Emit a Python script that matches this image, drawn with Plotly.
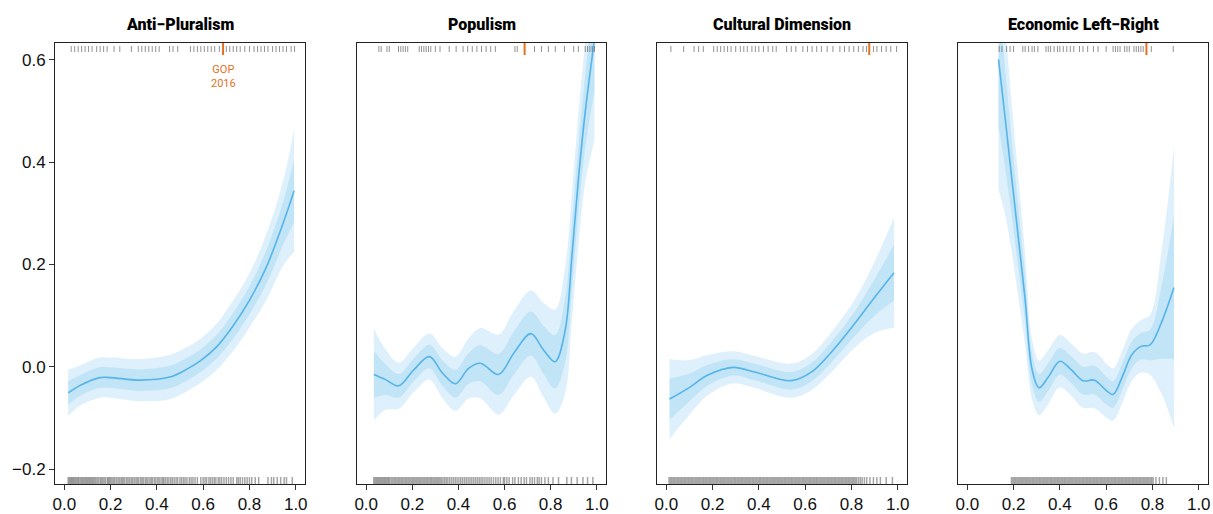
import plotly.graph_objects as go

# ---------------------------------------------------------------- data
titles = ["Anti\u2212Pluralism", "Populism", "Cultural Dimension", "Economic Left\u2212Right"]

# smoothed effect estimates (fit) and standard errors along each dimension
ap_x = [0.017, 0.07, 0.154, 0.2, 0.327, 0.456, 0.528, 0.586, 0.658, 0.729, 0.80, 0.874, 0.945, 0.993]
ap_fit = [-0.051, -0.036, -0.021, -0.021, -0.026, -0.020, -0.005, 0.011, 0.039, 0.080, 0.130, 0.196, 0.280, 0.344]
ap_se = [0.023, 0.020, 0.020, 0.020, 0.021, 0.022, 0.022, 0.022, 0.023, 0.025, 0.027, 0.033, 0.042, 0.061]

pop_x = [0.033, 0.084, 0.141, 0.206, 0.274, 0.332, 0.387, 0.444, 0.495, 0.574, 0.639, 0.714,
         0.769, 0.819, 0.863, 0.892, 0.920, 0.949, 0.990]
pop_fit = [-0.015, -0.025, -0.037, -0.006, 0.020, -0.013, -0.033, -0.003, 0.007, -0.015, 0.026, 0.065,
           0.033, 0.010, 0.072, 0.215, 0.365, 0.495, 0.640]
pop_se = [0.046, 0.030, 0.023, 0.022, 0.023, 0.025, 0.027, 0.030, 0.035, 0.040, 0.042, 0.043,
          0.047, 0.052, 0.063, 0.063, 0.066, 0.070, 0.100]

cul_x = [0.014, 0.094, 0.180, 0.288, 0.382, 0.541, 0.628, 0.714, 0.815, 0.902, 0.984]
cul_fit = [-0.063, -0.042, -0.016, -0.001, -0.010, -0.027, -0.010, 0.029, 0.085, 0.137, 0.184]
cul_se = [0.040, 0.028, 0.020, 0.016, 0.016, 0.017, 0.018, 0.020, 0.024, 0.036, 0.055]

eco_x = [0.135, 0.16, 0.19, 0.22, 0.25, 0.28, 0.31, 0.35, 0.40, 0.45, 0.50, 0.55, 0.60, 0.63,
         0.67, 0.71, 0.75, 0.79, 0.84, 0.893]
eco_fit = [0.601, 0.501, 0.378, 0.255, 0.132, -0.005, -0.041, -0.020, 0.011, -0.006, -0.027, -0.026,
           -0.046, -0.054, -0.019, 0.023, 0.040, 0.043, 0.088, 0.155]
eco_se = [0.130, 0.100, 0.075, 0.060, 0.045, 0.030, 0.027, 0.027, 0.026, 0.026, 0.027, 0.028,
          0.027, 0.026, 0.026, 0.026, 0.026, 0.030, 0.072, 0.140]

# party positions (top rug)
ap_parties = [0.03, 0.045, 0.06, 0.075, 0.09, 0.105, 0.12, 0.14, 0.155, 0.17, 0.185, 0.215, 0.24, 0.29,
              0.32, 0.335, 0.35, 0.365, 0.38, 0.395, 0.41, 0.455, 0.47, 0.49, 0.545, 0.56, 0.575, 0.59,
              0.605, 0.62, 0.635, 0.65, 0.67, 0.70, 0.715, 0.73, 0.745, 0.76, 0.78, 0.80, 0.82, 0.835,
              0.85, 0.865, 0.88, 0.90, 0.915, 0.93, 0.945, 0.96, 0.98, 0.995]
pop_parties = [0.055, 0.065, 0.09, 0.10, 0.14, 0.15, 0.16, 0.17, 0.18, 0.23, 0.24, 0.25, 0.26, 0.27,
               0.28, 0.30, 0.32, 0.36, 0.39, 0.42, 0.44, 0.46, 0.48, 0.50, 0.52, 0.54, 0.56, 0.645,
               0.655, 0.73, 0.76, 0.79, 0.82, 0.86, 0.90, 0.92, 0.95, 0.96, 0.97, 0.98, 0.99]
cul_parties = [0.02, 0.075, 0.12, 0.14, 0.16, 0.205, 0.22, 0.235, 0.25, 0.265, 0.28, 0.30, 0.32, 0.335,
               0.35, 0.37, 0.385, 0.40, 0.42, 0.44, 0.46, 0.475, 0.52, 0.54, 0.56, 0.59, 0.61, 0.63,
               0.65, 0.67, 0.695, 0.72, 0.75, 0.77, 0.79, 0.81, 0.83, 0.85, 0.865, 0.895, 0.91, 0.93,
               0.95, 0.97, 0.995]
eco_parties = [0.138, 0.15, 0.17, 0.185, 0.20, 0.24, 0.25, 0.265, 0.28, 0.29, 0.305, 0.34, 0.35, 0.36,
               0.375, 0.39, 0.40, 0.415, 0.43, 0.445, 0.46, 0.485, 0.50, 0.52, 0.545, 0.565, 0.60,
               0.63, 0.64, 0.65, 0.66, 0.68, 0.69, 0.70, 0.72, 0.73, 0.74, 0.75, 0.76, 0.795, 0.89]

# GOP 2016 position on each dimension
gop_2016 = [0.686, 0.687, 0.877, 0.774]

# observed values (bottom rug)
ap_obs = [0.017, 0.022, 0.027, 0.031, 0.036, 0.040, 0.045, 0.050, 0.055, 0.060, 0.064, 0.070, 0.075,
          0.080, 0.085, 0.090, 0.095, 0.100, 0.105, 0.110, 0.115, 0.120, 0.125, 0.130, 0.136, 0.142,
          0.148, 0.155, 0.160, 0.166, 0.172, 0.178, 0.186, 0.190, 0.195, 0.200, 0.206, 0.212, 0.218,
          0.225, 0.232, 0.238, 0.245, 0.250, 0.256, 0.262, 0.270, 0.276, 0.283, 0.290, 0.296, 0.303,
          0.310, 0.316, 0.322, 0.330, 0.336, 0.342, 0.350, 0.356, 0.362, 0.370, 0.376, 0.382, 0.390,
          0.396, 0.404, 0.410, 0.418, 0.425, 0.430, 0.437, 0.445, 0.452, 0.460, 0.467, 0.475, 0.483,
          0.490, 0.500, 0.507, 0.515, 0.522, 0.530, 0.540, 0.548, 0.556, 0.565, 0.575, 0.590, 0.600,
          0.608, 0.615, 0.625, 0.632, 0.640, 0.648, 0.655, 0.665, 0.672, 0.680, 0.690, 0.700, 0.710,
          0.720, 0.730, 0.745, 0.752, 0.760, 0.770, 0.780, 0.790, 0.800, 0.810, 0.825, 0.840, 0.880,
          0.895, 0.905, 0.920, 0.935, 0.950, 0.960, 0.985]
pop_obs = [0.033, 0.038, 0.043, 0.048, 0.053, 0.058, 0.063, 0.068, 0.073, 0.078, 0.083, 0.088, 0.093,
           0.098, 0.103, 0.110, 0.116, 0.122, 0.128, 0.134, 0.140, 0.146, 0.152, 0.158, 0.164, 0.170,
           0.176, 0.182, 0.188, 0.194, 0.200, 0.206, 0.212, 0.218, 0.224, 0.230, 0.236, 0.242, 0.248,
           0.254, 0.260, 0.266, 0.272, 0.278, 0.284, 0.290, 0.296, 0.302, 0.308, 0.314, 0.320, 0.326,
           0.333, 0.340, 0.347, 0.354, 0.362, 0.370, 0.378, 0.386, 0.394, 0.402, 0.410, 0.418, 0.426,
           0.434, 0.442, 0.450, 0.458, 0.466, 0.474, 0.482, 0.490, 0.498, 0.506, 0.515, 0.524, 0.533,
           0.542, 0.552, 0.562, 0.572, 0.582, 0.595, 0.600, 0.610, 0.620, 0.635, 0.645, 0.660, 0.672,
           0.685, 0.695, 0.710, 0.720, 0.730, 0.742, 0.750, 0.760, 0.775, 0.790, 0.810, 0.834, 0.870,
           0.890, 0.915, 0.940, 0.960, 0.983]
cul_obs = [0.012, 0.018, 0.024, 0.030, 0.036, 0.042, 0.048, 0.054, 0.060, 0.066, 0.072, 0.078, 0.084,
           0.090, 0.096, 0.102, 0.108, 0.114, 0.120, 0.126, 0.132, 0.138, 0.144, 0.150, 0.156, 0.162,
           0.168, 0.174, 0.180, 0.186, 0.192, 0.198, 0.204, 0.210, 0.216, 0.222, 0.228, 0.234, 0.240,
           0.246, 0.252, 0.258, 0.264, 0.270, 0.276, 0.282, 0.288, 0.294, 0.300, 0.306, 0.312, 0.318,
           0.324, 0.330, 0.336, 0.342, 0.348, 0.354, 0.360, 0.366, 0.372, 0.378, 0.384, 0.390, 0.396,
           0.402, 0.408, 0.414, 0.420, 0.426, 0.432, 0.438, 0.444, 0.450, 0.456, 0.462, 0.468, 0.474,
           0.480, 0.486, 0.492, 0.498, 0.504, 0.510, 0.516, 0.522, 0.528, 0.534, 0.540, 0.546, 0.552,
           0.558, 0.564, 0.570, 0.576, 0.582, 0.588, 0.594, 0.600, 0.606, 0.612, 0.618, 0.624, 0.630,
           0.636, 0.642, 0.648, 0.654, 0.660, 0.666, 0.672, 0.678, 0.684, 0.690, 0.696, 0.702, 0.708,
           0.714, 0.720, 0.726, 0.732, 0.738, 0.744, 0.750, 0.756, 0.762, 0.768, 0.774, 0.780, 0.786,
           0.792, 0.798, 0.804, 0.810, 0.816, 0.822, 0.830, 0.838, 0.846, 0.856, 0.866, 0.880, 0.895,
           0.910, 0.925, 0.950, 0.977]
eco_obs = [0.191, 0.197, 0.203, 0.209, 0.215, 0.221, 0.227, 0.233, 0.239, 0.245, 0.251, 0.257, 0.263,
           0.269, 0.275, 0.281, 0.287, 0.293, 0.299, 0.305, 0.311, 0.317, 0.323, 0.329, 0.335, 0.341,
           0.347, 0.353, 0.359, 0.365, 0.371, 0.377, 0.383, 0.389, 0.395, 0.401, 0.407, 0.413, 0.419,
           0.425, 0.431, 0.437, 0.443, 0.449, 0.455, 0.461, 0.467, 0.473, 0.479, 0.485, 0.491, 0.497,
           0.503, 0.509, 0.515, 0.521, 0.527, 0.533, 0.539, 0.545, 0.551, 0.557, 0.563, 0.569, 0.575,
           0.581, 0.587, 0.593, 0.599, 0.605, 0.611, 0.617, 0.623, 0.629, 0.635, 0.641, 0.647, 0.653,
           0.659, 0.665, 0.671, 0.677, 0.683, 0.689, 0.695, 0.701, 0.707, 0.713, 0.719, 0.725, 0.731,
           0.737, 0.743, 0.749, 0.755, 0.761, 0.767, 0.773, 0.779, 0.785, 0.791, 0.797, 0.803, 0.815,
           0.830, 0.845, 0.860]

x_ticks = [0.0, 0.2, 0.4, 0.6, 0.8, 1.0]
y_ticks = [-0.2, 0.0, 0.2, 0.4, 0.6]

# ---------------------------------------------------------------- styling
W, H = 1213, 514
X_RANGE = [-0.04, 1.04]
Y_RANGE = [-0.229, 0.633]
PLOT_TOP, PLOT_BOTTOM = 43, 484
PANEL_PX = [(55, 305), (357, 606), (657, 907), (958, 1208)]

LINE_BLUE = "#56B4E9"
BAND = "rgba(86,180,233,0.20)"
RUG_GREY = "rgba(110,110,110,0.62)"
TOP_RUG_GREY = "rgba(100,100,100,0.7)"
ORANGE = "#E3711E"
Z = 1.96
TITLE_FONT = "Roboto, Liberation Sans Narrow, Arial Narrow, sans-serif"
TICK_FONT = "Liberation Sans, Arial, sans-serif"

px_per_unit = (PLOT_BOTTOM - PLOT_TOP) / (Y_RANGE[1] - Y_RANGE[0])


def from_top(px):
    return Y_RANGE[1] - px / px_per_unit


def from_bottom(px):
    return Y_RANGE[0] + px / px_per_unit


panels = [
    (ap_x, ap_fit, ap_se, ap_parties, ap_obs),
    (pop_x, pop_fit, pop_se, pop_parties, pop_obs),
    (cul_x, cul_fit, cul_se, cul_parties, cul_obs),
    (eco_x, eco_fit, eco_se, eco_parties, eco_obs),
]


def rug(values, y0, y1):
    xs, ys = [], []
    for v in values:
        xs += [v, v, None]
        ys += [y0, y1, None]
    return xs, ys


fig = go.Figure()

for i, (xs, fit, se, parties, obs) in enumerate(panels):
    n = "" if i == 0 else str(i + 1)
    xa, ya = "x" + n, "y" + n
    common = dict(xaxis=xa, yaxis=ya, showlegend=False, hoverinfo="skip")
    spline = dict(shape="spline", smoothing=1.0)

    # outer (95%) and inner (±1 SE) confidence bands
    for k in (Z, 1.0):
        hi = [f + k * s for f, s in zip(fit, se)]
        lo = [f - k * s for f, s in zip(fit, se)]
        fig.add_trace(go.Scatter(x=xs, y=hi, mode="lines",
                                 line=dict(width=0, color=BAND, **spline), **common))
        fig.add_trace(go.Scatter(x=xs, y=lo, mode="lines", fill="tonexty", fillcolor=BAND,
                                 line=dict(width=0, color=BAND, **spline), **common))

    fig.add_trace(go.Scatter(x=xs, y=fit, mode="lines",
                             line=dict(color=LINE_BLUE, width=1.6, **spline), **common))

    rx, ry = rug(parties, from_top(3), from_top(9))
    fig.add_trace(go.Scatter(x=rx, y=ry, mode="lines",
                             line=dict(color=TOP_RUG_GREY, width=1), **common))
    rx, ry = rug(obs, from_bottom(0), from_bottom(7))
    fig.add_trace(go.Scatter(x=rx, y=ry, mode="lines",
                             line=dict(color=RUG_GREY, width=1.5), **common))
    rx, ry = rug([gop_2016[i]], from_top(0), from_top(12))
    fig.add_trace(go.Scatter(x=rx, y=ry, mode="lines",
                             line=dict(color=ORANGE, width=2), **common))

    x0, x1 = PANEL_PX[i]
    axis_common = dict(showline=True, mirror=True, linecolor="#222", linewidth=1,
                       showgrid=False, zeroline=False, ticks="outside", ticklen=5,
                       tickcolor="#333", tickwidth=1, automargin=False,
                       tickfont=dict(family=TICK_FONT, size=17, color="#111"))
    fig.layout["xaxis" + n] = dict(domain=[x0 / W, x1 / W], range=X_RANGE, anchor=ya,
                                   tickvals=x_ticks, ticktext=[f"{t:.1f}" for t in x_ticks],
                                   **axis_common)
    yax = dict(domain=[1 - PLOT_BOTTOM / H, 1 - PLOT_TOP / H], range=Y_RANGE, anchor=xa,
               **axis_common)
    if i == 0:
        yax.update(tickvals=y_ticks, ticktext=[f"{t:.1f}".replace("-", "\u2212") for t in y_ticks])
    else:
        yax.update(showticklabels=False, ticks="")
    fig.layout["yaxis" + n] = yax

    fig.add_annotation(text=titles[i], xref="paper", yref="paper",
                       x=(x0 + x1) / 2 / W, y=1 - 24 / H, xanchor="center", yanchor="middle",
                       showarrow=False,
                       font=dict(family=TITLE_FONT, size=16, color="#000", weight=900))

fig.add_annotation(text="GOP<br>2016", xref="x", yref="y", x=gop_2016[0], y=from_top(33),
                   xanchor="center", yanchor="middle", showarrow=False,
                   font=dict(family="Roboto, sans-serif", size=11, color=ORANGE))

fig.update_layout(width=W, height=H, margin=dict(l=0, r=0, t=0, b=0),
                  plot_bgcolor="white", paper_bgcolor="white", showlegend=False)

fig.write_html("out.html")
